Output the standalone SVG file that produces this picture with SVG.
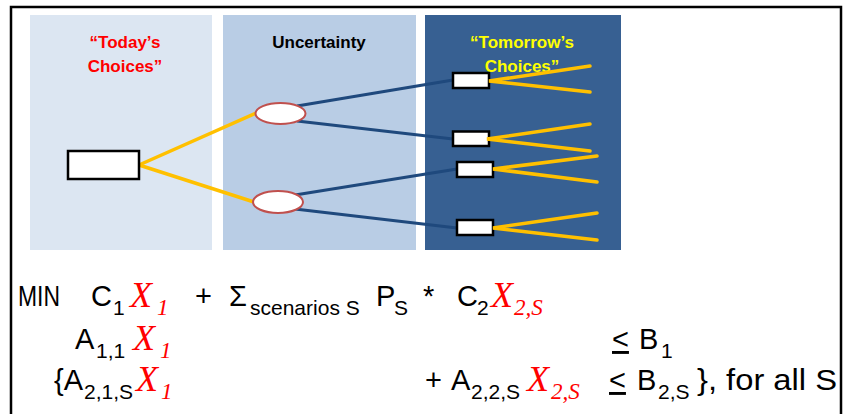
<svg xmlns="http://www.w3.org/2000/svg" width="846" height="414" viewBox="0 0 846 414">
<style>
.hd{font-family:"Liberation Sans",Arial,sans-serif;font-weight:bold;font-size:17px;text-anchor:middle}
.eq{font-family:"Liberation Sans",Arial,sans-serif;font-size:29px;fill:#000}
.sb{font-family:"Liberation Sans",Arial,sans-serif;font-size:21px;fill:#000}
.xv{font-family:"Liberation Serif","Times New Roman",serif;font-style:italic;font-size:36px;fill:#ff0000}
.xs{font-family:"Liberation Serif","Times New Roman",serif;font-style:italic;font-size:23px;fill:#ff0000}
.box{fill:#fff;stroke:#000;stroke-width:2.5}
.ell{fill:#fff;stroke:#c0504d;stroke-width:2}
.yl{stroke:#ffc000;stroke-width:3.5;fill:none;stroke-linecap:round}
.bl{stroke:#1f497d;stroke-width:3;fill:none}
</style>
<rect x="0" y="0" width="846" height="414" fill="#fff"/>
<rect x="11" y="7" width="830" height="430" fill="none" stroke="#000" stroke-width="2.5"/>
<g id="panels">
<rect x="30" y="15" width="182" height="235" fill="#dce6f2"/>
<rect x="223" y="15" width="193" height="235" fill="#b9cde5"/>
<rect x="425" y="15" width="196" height="235" fill="#376092"/>
<text class="hd" x="125" y="48" fill="#ff0000">“Today’s</text>
<text class="hd" x="125" y="72" fill="#ff0000">Choices”</text>
<text class="hd" x="319" y="48" fill="#000">Uncertainty</text>
<text class="hd" x="522" y="48" fill="#ffff00">“Tomorrow’s</text>
<text class="hd" x="522" y="72" fill="#ffff00">Choices”</text>
</g>
<g id="connectors">
<line class="yl" x1="139" y1="165" x2="256" y2="113"/>
<line class="yl" x1="139" y1="165" x2="254" y2="202"/>
<line class="bl" x1="297" y1="106" x2="453" y2="80"/>
<line class="bl" x1="297" y1="121" x2="453" y2="139"/>
<line class="bl" x1="295" y1="195" x2="457" y2="169"/>
<line class="bl" x1="295" y1="209" x2="457" y2="228"/>
</g>
<g id="root"><rect class="box" x="68" y="151" width="71" height="28"/></g>
<g id="chance1"><ellipse class="ell" cx="280.5" cy="113.5" rx="25" ry="10.5"/></g>
<g id="chance2"><ellipse class="ell" cx="278" cy="202" rx="25" ry="11"/></g>
<g id="dec1"><rect class="box" x="453" y="73" width="36" height="15"/></g>
<g id="dec2"><rect class="box" x="453" y="131.5" width="36" height="14.5"/></g>
<g id="dec3"><rect class="box" x="457" y="162" width="36" height="15"/></g>
<g id="dec4"><rect class="box" x="457" y="220" width="36" height="15"/></g>
<g id="branches">
<polyline class="yl" points="590,66 489,81 590,92"/>
<polyline class="yl" points="590,124 487,139 590,151"/>
<polyline class="yl" points="597,156 493,169 597,182"/>
<polyline class="yl" points="597,213 493,228 597,240"/>
</g>
<g id="equations">
<text class="eq" x="18" y="306" font-size="17" textLength="42" lengthAdjust="spacingAndGlyphs">MIN</text>
<text class="eq" x="91" y="306">C</text><text class="sb" x="113" y="315">1</text>
<text class="xv" x="130" y="307">X</text><text class="xs" x="157" y="315">1</text>
<text class="eq" x="195" y="306">+</text>
<text class="eq" x="229" y="306">Σ</text>
<text class="sb" x="250" y="315">scenarios S</text>
<text class="eq" x="376" y="306">P</text><text class="sb" x="394" y="315">S</text>
<text class="eq" x="423" y="306">*</text>
<text class="eq" x="457" y="306">C</text><text class="sb" x="477" y="315">2</text>
<text class="xv" x="491" y="307">X</text><text class="xs" x="514" y="315">2,S</text>

<text class="eq" x="75" y="349">A</text><text class="sb" x="96" y="358">1,1</text>
<text class="xv" x="133" y="350">X</text><text class="xs" x="160" y="358">1</text>
<text class="eq" x="612" y="349" text-decoration="underline">&lt;</text>
<text class="eq" x="639" y="349">B</text><text class="sb" x="661" y="358">1</text>

<text class="eq" x="54" y="390">{A</text><text class="sb" x="84" y="399">2,1,S</text>
<text class="xv" x="136" y="391">X</text><text class="xs" x="161" y="399">1</text>
<text class="eq" x="425" y="390">+</text>
<text class="eq" x="451" y="390">A</text><text class="sb" x="471" y="399">2,2,S</text>
<text class="xv" x="527" y="391">X</text><text class="xs" x="551" y="399">2,S</text>
<text class="eq" x="609" y="390" text-decoration="underline">&lt;</text>
<text class="eq" x="637" y="390">B</text><text class="sb" x="658" y="399">2,S</text>
<text class="eq" x="697" y="390" textLength="140" lengthAdjust="spacingAndGlyphs">}, for all S</text>
</g>
</svg>
